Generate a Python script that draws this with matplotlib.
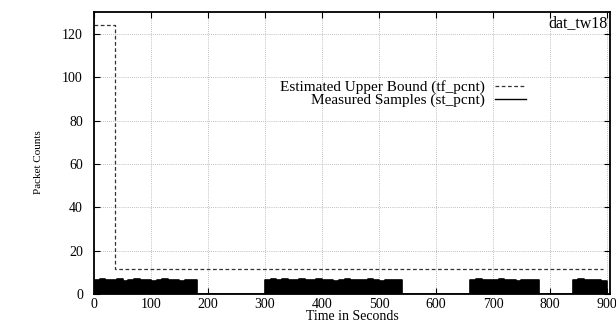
import numpy as np
from matplotlib import pyplot as plt
from matplotlib.lines import Line2D

plt.rcParams['font.family'] = ['Liberation Serif', 'DejaVu Serif']

# estimated upper bound (tf_pcnt), step curve
bound_t = [0, 37, 37, 893]
bound_v = [124, 124, 11.5, 11.5]

# measured samples (st_pcnt), peak of dense samples per 10 s
sample_t = [0, 10, 20, 30, 40, 50, 60, 70, 80, 90,
            100, 110, 120, 130, 140, 150, 160, 170, 180, 190,
            200, 210, 220, 230, 240, 250, 260, 270, 280, 290,
            300, 310, 320, 330, 340, 350, 360, 370, 380, 390,
            400, 410, 420, 430, 440, 450, 460, 470, 480, 490,
            500, 510, 520, 530, 540, 550, 560, 570, 580, 590,
            600, 610, 620, 630, 640, 650, 660, 670, 680, 690,
            700, 710, 720, 730, 740, 750, 760, 770, 780, 790,
            800, 810, 820, 830, 840, 850, 860, 870, 880, 890,
            900]
sample_v = [6.5, 7, 6.5, 6.5, 7, 6, 6.5, 7, 6.5, 6.5,
            6, 6.5, 7, 6.5, 6.5, 6, 6.5, 6.5, 0, 0,
            0, 0, 0, 0, 0, 0, 0, 0, 0, 0,
            6.5, 7, 6.5, 7, 6.5, 6.5, 7, 6.5, 6.5, 7,
            6.5, 6.5, 6, 6.5, 7, 6.5, 6.5, 6.5, 7, 6.5,
            6, 6.5, 6.5, 6.5, 0, 0, 0, 0, 0, 0,
            0, 0, 0, 0, 0, 0, 6.5, 7, 6.5, 6.5,
            6.5, 7, 6.5, 6.5, 6, 6.5, 6.5, 6.5, 0, 0,
            0, 0, 0, 0, 6.5, 7, 6.5, 6.5, 6.5, 6,
            0]

xticks = [0, 100, 200, 300, 400, 500, 600, 700, 800, 900]
yticks = [0, 20, 40, 60, 80, 100, 120]

fig = plt.figure(figsize=(6.16, 3.25), dpi=100)
ax = fig.add_axes([0.1526, 0.095, 0.8374, 0.868])

ax.grid(True, color='#aaaaaa', linestyle=(0, (1, 1.5)), linewidth=0.6)
ax.set_axisbelow(True)

ax.plot(bound_t, bound_v, color='#333333', lw=0.9, dashes=(3, 2))
ax.fill_between(sample_t, 0, sample_v, step='post', color='black', lw=0)
ax.step(sample_t, sample_v, where='post', color='black', lw=1.2)

ax.set_xlim(0, 905)
ax.set_ylim(0, 130)
ax.set_xticks(xticks)
ax.set_yticks(yticks)
ax.tick_params(direction='in', top=True, right=True, labelsize=10, length=4)
ax.tick_params(axis='y', pad=8)
ax.tick_params(axis='x', pad=2.5)
for s in ax.spines.values():
    s.set_linewidth(1.3)

ax.set_xlabel('Time in Seconds', fontsize=10, labelpad=-0.5)
fig.text(0.062, 0.5, 'Packet Counts', rotation=90, fontsize=8, va='center', ha='center')
ax.text(0.995, 0.99, 'dat_tw18', transform=ax.transAxes, ha='right', va='top', fontsize=11.5)

handles = [Line2D([], [], color='#333333', lw=0.9, dashes=(3, 2)),
           Line2D([], [], color='black', lw=1.0)]
ax.legend(handles, ['Estimated Upper Bound (tf_pcnt)', 'Measured Samples (st_pcnt)'],
          loc='upper right', bbox_to_anchor=(0.852, 0.785), frameon=False, markerfirst=False,
          fontsize=11, handlelength=2.0, handletextpad=0.7, labelspacing=-0.05,
          borderpad=0, alignment='right')

fig.savefig('out.png', dpi=100)
